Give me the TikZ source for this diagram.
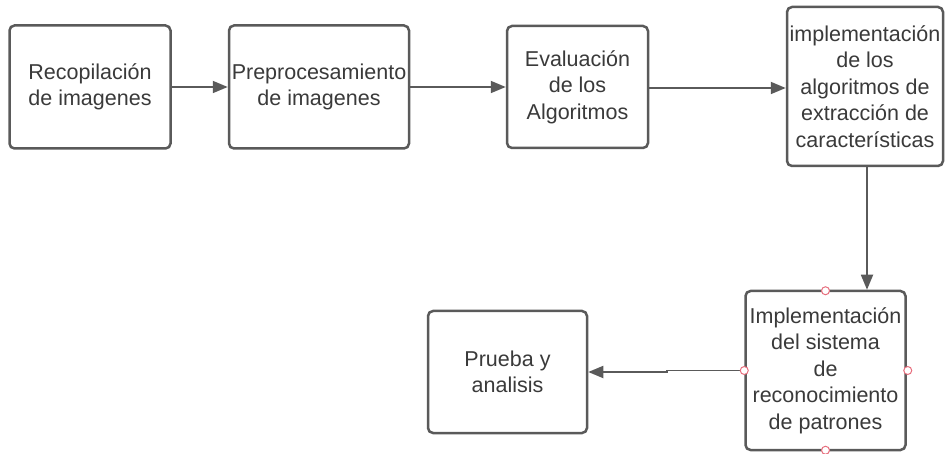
\documentclass[tikz,border=0pt]{standalone}
\usepackage{fontspec}
\setmainfont{Liberation Sans}
\usetikzlibrary{arrows.meta,calc}
\definecolor{linegray}{HTML}{5A5A5A}
\definecolor{txtgray}{HTML}{3A3A3A}
\definecolor{handlered}{HTML}{E8707F}
\tikzset{
  box/.style={draw=linegray, line width=2.5pt, rounded corners=5pt, fill=white,
    inner sep=0pt, align=center, text=txtgray,
    font=\fontsize{21.5}{26.5}\selectfont},
  conn/.style={draw=linegray, line width=1.8pt, -{Triangle[length=15pt,width=12pt]}},
  handle/.style={circle, draw=handlered, fill=white, line width=1pt,
    minimum size=8pt, inner sep=0pt}
}
\begin{document}
\begin{tikzpicture}[x=1pt,y=-1pt]
\useasboundingbox (0,0) rectangle (945,454);
\node[box, minimum width=161pt, minimum height=123pt] (b1) at (90,87)
  {Recopilación\\de imagenes};
\node[box, minimum width=180pt, minimum height=123pt] (b2) at (319,87)
  {Preprocesamiento\\de imagenes};
\node[box, minimum width=141pt, minimum height=122pt] (b3) at (577.5,87)
  {Evaluación\\de los\\Algoritmos};
\node[box, minimum width=156pt, minimum height=159pt] (b4) at (865,86.5)
  {implementación\\de los\\algoritmos de\\extracción de\\características};
\node[box, minimum width=160pt, minimum height=159pt] (b5) at (825.5,370.5)
  {Implementación\\del sistema\\de\\reconocimiento\\de patrones};
\node[box, minimum width=159pt, minimum height=122pt] (b6) at (507.5,372)
  {Prueba y\\analisis};
\coordinate (jog) at (667,372);
\coordinate (vx) at (867,0);
\draw[conn] (b1) -- (b2);
\draw[conn] (b2) -- (b3);
\draw[conn] (b3.east |- 0,88) -- (b4.west |- 0,88);
\draw[conn] (b4.south -| vx) -- (b5.north -| vx);
\draw[conn] (b5.west) -- (b5.west -| jog) |- (b6.east);
\node[handle] (h1) at ([yshift=-1pt]b5.north) {};
\node[handle] (h2) at (b5.west) {};
\node[handle] (h3) at ([xshift=1pt]b5.east) {};
\node[handle] (h4) at ([yshift=1pt]b5.south) {};
\end{tikzpicture}
\end{document}
